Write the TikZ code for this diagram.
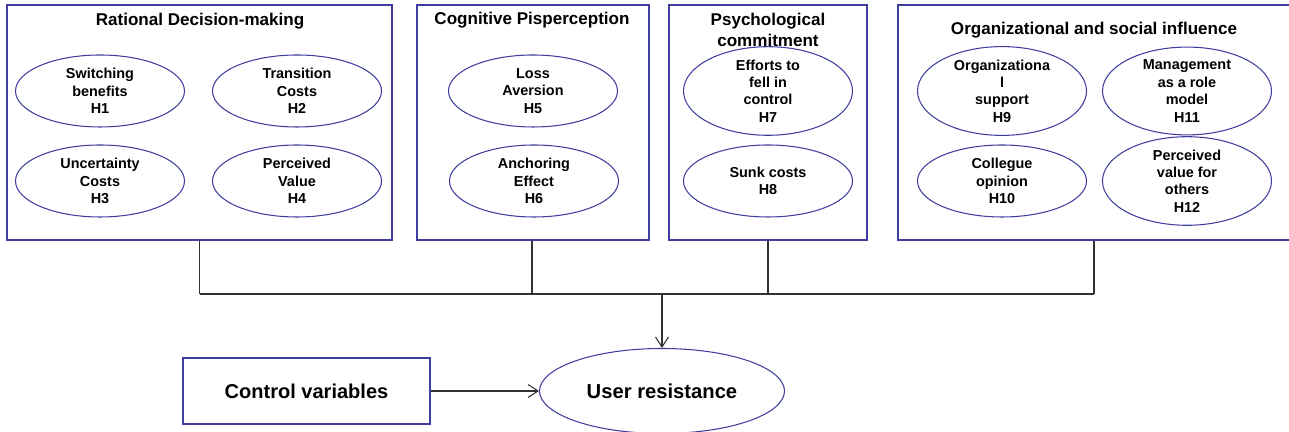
\documentclass[tikz,border=0pt]{standalone}
\usepackage{fontspec}
\setmainfont{Liberation Sans}
\usepackage{tikz}
\usetikzlibrary{shapes, arrows, positioning, calc, shapes.geometric, arrows.meta}

\definecolor{frameblue}{RGB}{62,62,158}

\tikzset{
    group/.style={draw=frameblue, line width=0.85pt, rectangle, minimum height=4.7cm},
    factor/.style={ellipse, draw=frameblue, line width=0.6pt, minimum width=3.38cm, minimum height=1.44cm,
        inner sep=0pt, align=center, font=\fontsize{8.2}{9.9}\selectfont\bfseries},
    grouptitle/.style={align=center, font=\fontsize{9.7}{11.8}\selectfont\bfseries},
    link/.style={draw=black!80, line width=0.6pt}
}

\begin{document}
\begin{tikzpicture}
            \useasboundingbox (0, 0) rectangle (25.78, 8.64);

            % Groups
            \node[group, minimum width=7.7cm] (rdm) at (3.99, 6.19) {};
            \node[group, minimum width=4.64cm] (cmp) at (10.66, 6.19) {};
            \node[group, minimum width=3.96cm] (pcm) at (15.36, 6.19) {};
            \node[group, minimum width=7.86cm] (osi) at (21.89, 6.19) {};

            % Group titles
            \node[grouptitle] (rdmtitle) at (4.0, 8.22) {Rational Decision-making};
            \node[grouptitle] (cmptitle) at (10.64, 8.24) {Cognitive Pisperception};
            \node[grouptitle] (pcmtitle) at (15.36, 8.04) {Psychological\\commitment};
            \node[grouptitle] (ositle) at (21.88, 8.04) {Organizational and social influence};

            % Factors
            \node[factor] (h1) at (2.0, 6.82) {Switching\\benefits\\H1};
            \node[factor] (h2) at (5.94, 6.82) {Transition\\Costs\\H2};
            \node[factor] (h3) at (2.0, 5.02) {Uncertainty\\Costs\\H3};
            \node[factor] (h4) at (5.94, 5.02) {Perceived\\Value\\H4};
            \node[factor] (h5) at (10.66, 6.82) {Loss\\Aversion\\H5};
            \node[factor] (h6) at (10.68, 5.02) {Anchoring\\Effect\\H6};
            \node[factor] (h7) at (15.36, 6.82) {Efforts to\\fell in\\control\\H7};
            \node[factor] (h8) at (15.36, 5.02) {Sunk costs\\H8};
            \node[factor] (h9) at (20.04, 6.82) {Organizationa\\l\\support\\H9};
            \node[factor] (h10) at (20.04, 5.02) {Collegue\\opinion\\H10};
            \node[factor] (h11) at (23.74, 6.82) {Management\\as a role\\model\\H11};
            \node[factor] (h12) at (23.74, 5.02) {Perceived\\value for\\others\\H12};

            % Outcome and control
            \node[ellipse, draw=frameblue, line width=0.6pt, minimum width=4.9cm, minimum height=1.7cm,
                font=\fontsize{11.5}{13.5}\selectfont\bfseries] (res) at (13.24, 0.82) {User resistance};
            \node[rectangle, draw=frameblue, line width=0.6pt, minimum width=4.94cm, minimum height=1.32cm,
                font=\fontsize{11.4}{13.5}\selectfont\bfseries] (ctrl) at (6.13, 0.82) {Control variables};

            % Bus
            \coordinate (bus) at (0, 2.76);
            \coordinate (busl) at (rdm.south |- bus);
            \coordinate (busr) at (ositle |- bus);
            \coordinate (busm) at (res.north |- bus);

            % Connections
            \draw[link] (rdm.south) -- (busl);
            \draw[link] (cmptitle |- cmp.south) -- (cmptitle |- bus);
            \draw[link] (pcm.south) -- (pcm.south |- bus);
            \draw[link] (ositle |- osi.south) -- (busr);
            \draw[link] (busl) -- (busr);
            \draw[link, -{Straight Barb[length=2mm, width=2.6mm]}] (busm) -- (res.north);
            \draw[link, -{Straight Barb[length=2mm, width=2.6mm]}] (ctrl.east) -- (res.west);
        \end{tikzpicture}
\end{document}
